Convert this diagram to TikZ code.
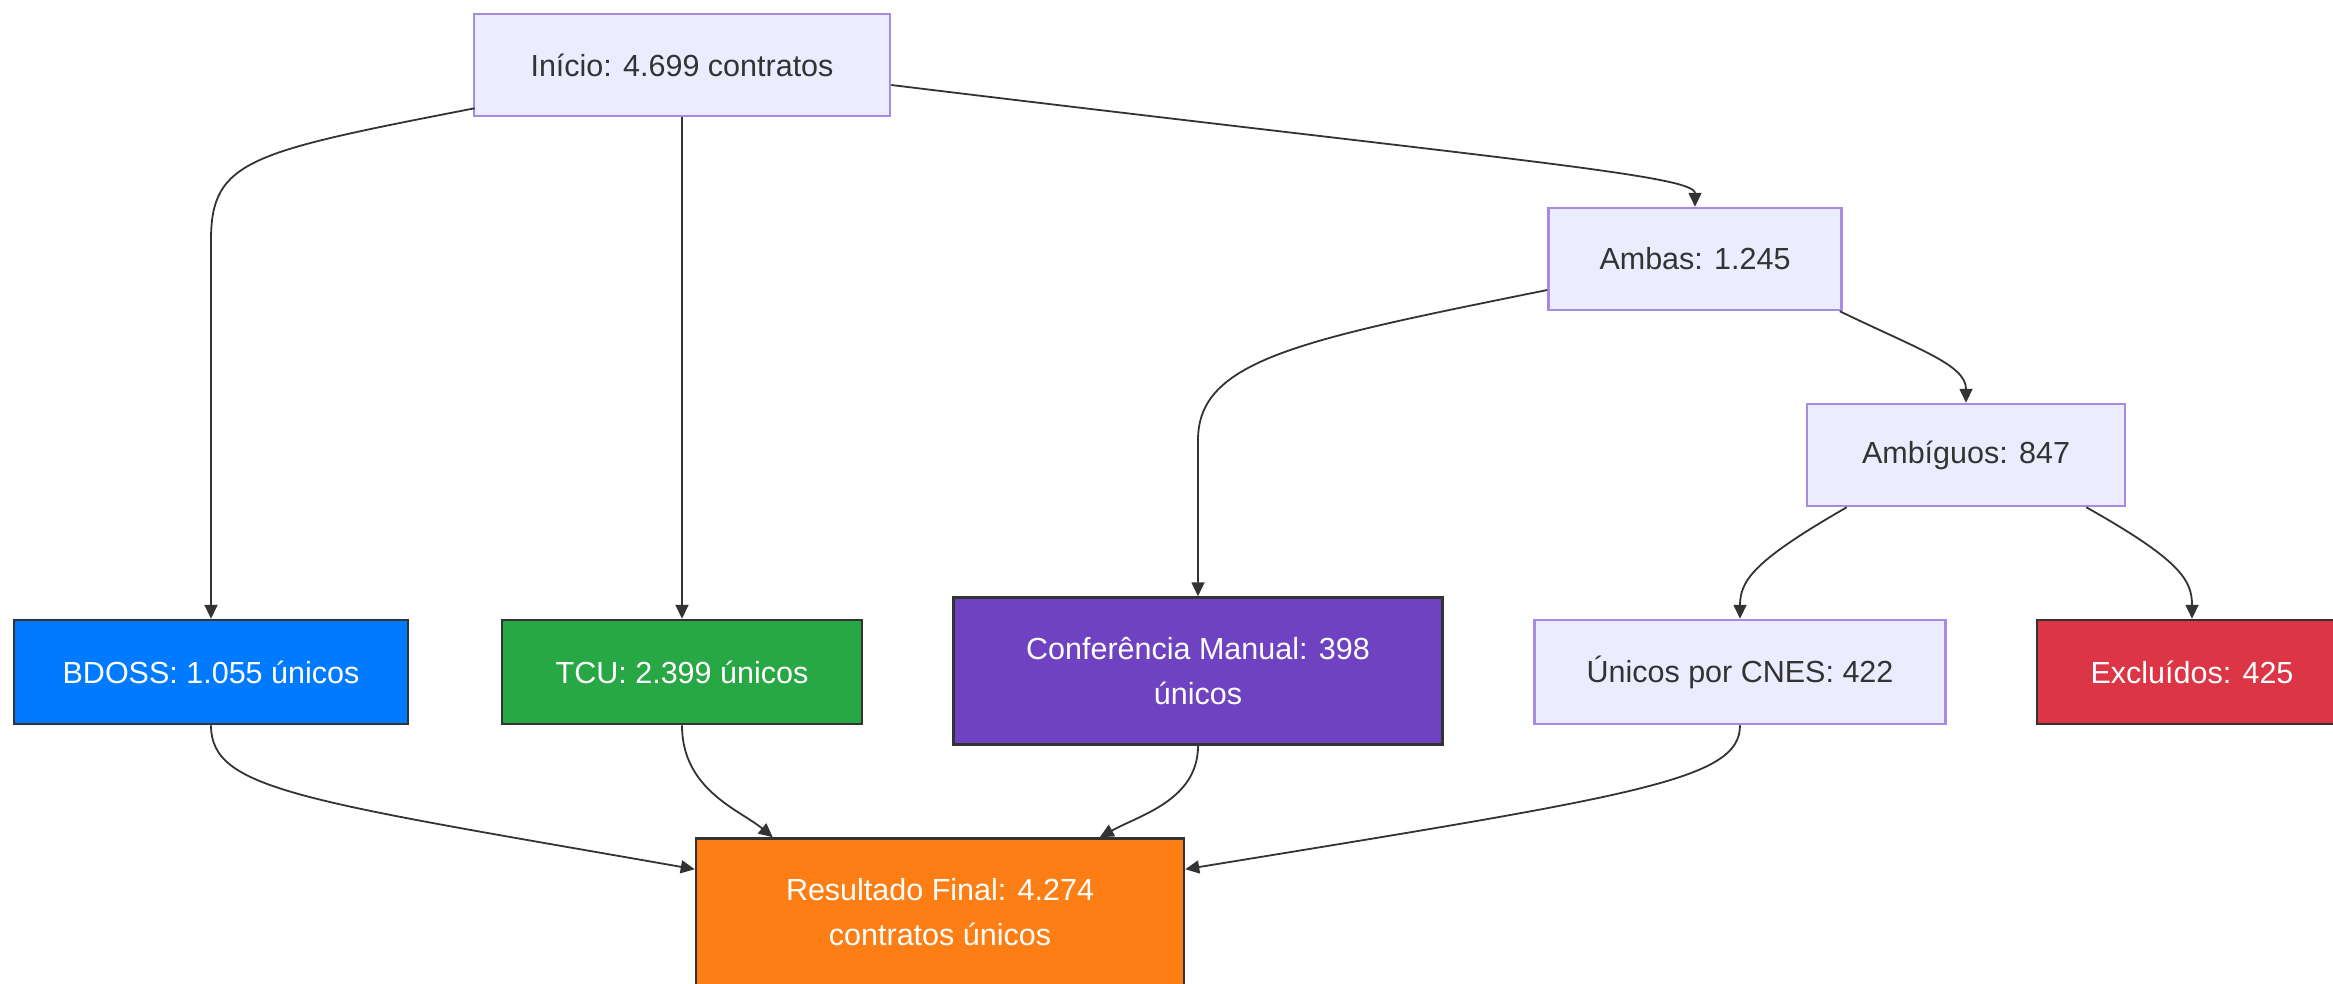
\documentclass[tikz,border=0pt]{standalone}
\usepackage{fontspec}
\setmainfont{Liberation Sans}
\usetikzlibrary{arrows.meta,calc}
\definecolor{lightfill}{HTML}{ECECFF}
\definecolor{lightdraw}{HTML}{A78BE3}
\definecolor{txt}{HTML}{333333}
\definecolor{edge}{HTML}{333333}
\definecolor{cblue}{HTML}{007BFF}
\definecolor{cgreen}{HTML}{28A745}
\definecolor{cpurple}{HTML}{6F42C1}
\definecolor{corange}{HTML}{FD7E14}
\definecolor{cred}{HTML}{DC3545}
\begin{document}
\begin{tikzpicture}[x=1pt,y=-1pt,
  every node/.style={font=\fontsize{30.5}{45}\selectfont},
  lightbox/.style={draw=lightdraw, fill=lightfill, text=txt, line width=2.5pt, rectangle, align=center, inner sep=0pt},
  darkbox/.style={draw=edge, line width=2.5pt, text=white, rectangle, align=center, inner sep=0pt},
  conn/.style={draw=edge, line width=1.8pt, -{Triangle[length=14pt,width=13pt]}}
]
\useasboundingbox (0,0) rectangle (2333,983);
\clip (0,0) rectangle (2333,983);

\node[lightbox, minimum width=416pt, minimum height=102pt] (start) at (682,65) {Início: 4.699 contratos};
\node[darkbox, fill=cblue, minimum width=394pt, minimum height=104pt] (bdoss) at (211,672) {BDOSS: 1.055 únicos};
\node[darkbox, fill=cgreen, minimum width=360pt, minimum height=104pt] (tcu) at (682,672) {TCU: 2.399 únicos};
\node[darkbox, fill=cpurple, minimum width=489pt, minimum height=147pt] (conf) at (1198,671) {Conferência Manual: 398\\únicos};
\node[lightbox, minimum width=293pt, minimum height=102pt] (ambas) at (1695,259) {Ambas: 1.245};
\node[lightbox, minimum width=318pt, minimum height=102pt] (ambig) at (1966,455) {Ambíguos: 847};
\node[lightbox, minimum width=411pt, minimum height=104pt] (unicos) at (1740,672) {Únicos por CNES: 422};
\node[darkbox, fill=cred, minimum width=310pt, minimum height=104pt] (excl) at (2192,672) {Excluídos: 425};
\node[darkbox, fill=corange, minimum width=488pt, minimum height=147pt] (res) at (940,912) {Resultado Final: 4.274\\contratos únicos};

\draw[conn] ($(start.south west)+(2,-9)$) .. controls (250,152) and (211,160) .. (211,240) -- (bdoss.north);
\draw[conn] (start.south) -- (tcu.north);
\draw[conn] ($(start.east)+(0,20)$) .. controls (1500,159) and (1695,175) .. (ambas.north);
\draw[conn] ($(ambas.west)+(0,31)$) .. controls (1300,340) and (1198,360) .. (1198,440) -- (conf.north);
\draw[conn] ($(ambas.south east)+(-3,0)$) .. controls (1920,350) and (1966,365) .. (ambig.north);
\draw[conn] ($(ambig.south west)+(41,0)$) .. controls (1755,560) and (1740,580) .. (unicos.north);
\draw[conn] ($(ambig.south east)+(-40,0)$) .. controls (2180,560) and (2192,580) .. (excl.north);
\draw[conn] (bdoss.south) .. controls (211,790) and (300,800) .. ($(res.north west)+(0,32)$);
\draw[conn] (tcu.south) .. controls (682,790) and (740,810) .. ($(res.north west)+(78,0)$);
\draw[conn] (conf.south) .. controls (1198,800) and (1140,815) .. ($(res.north west)+(405,0)$);
\draw[conn] (unicos.south) .. controls (1740,780) and (1640,795) .. ($(res.north east)+(0,32)$);
\end{tikzpicture}
\end{document}
